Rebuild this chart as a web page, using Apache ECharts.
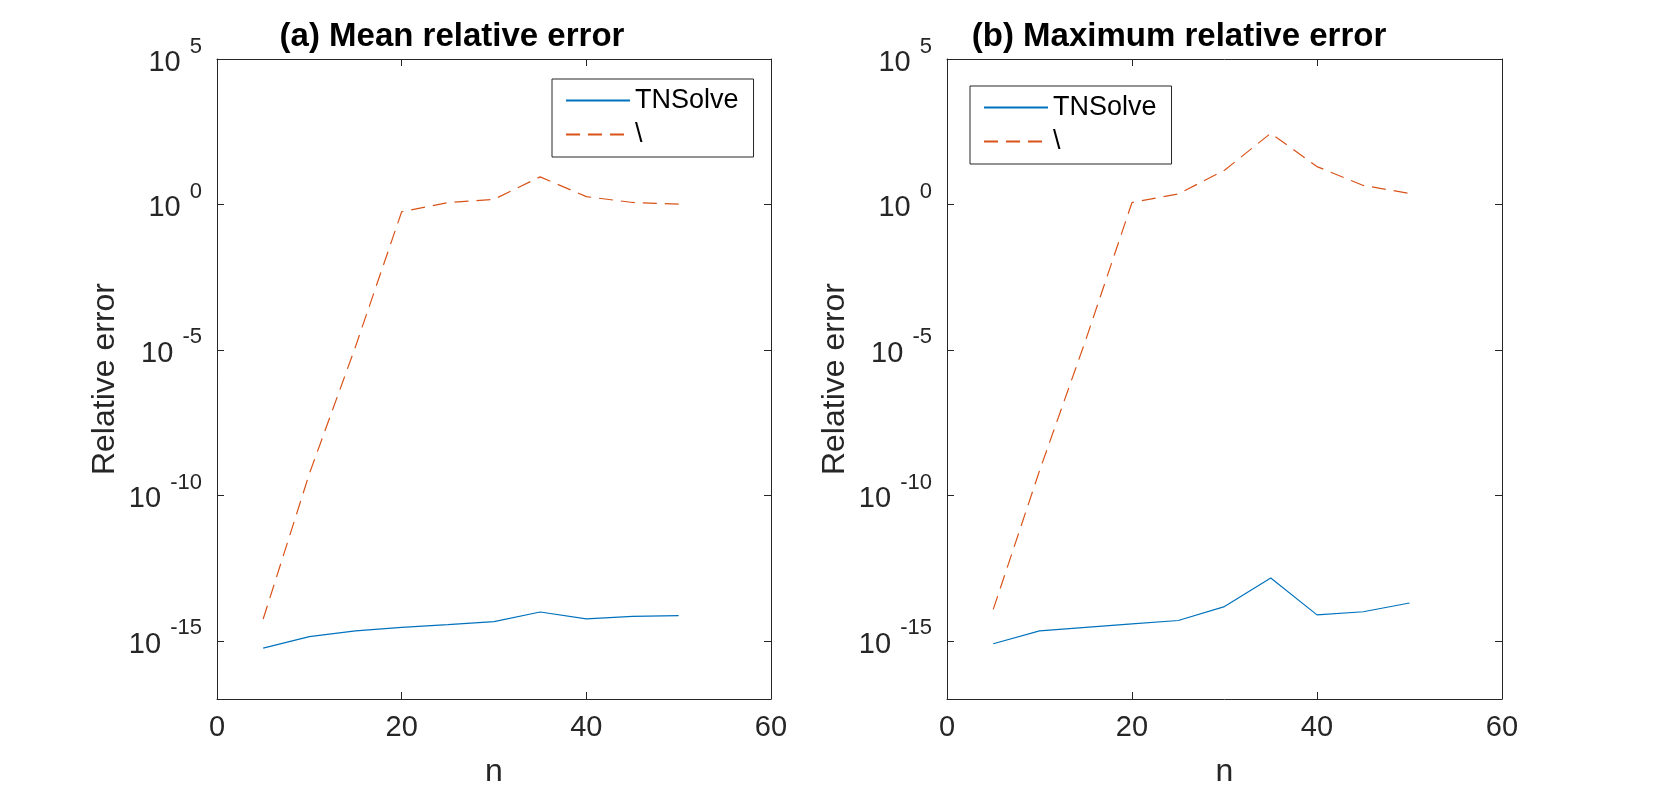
<!DOCTYPE html>
<html>
<head>
<meta charset="utf-8">
<script src="https://cdn.jsdelivr.net/npm/echarts@6/dist/echarts.min.js"></script>
<style>
html,body{margin:0;padding:0;background:#fff;}
#chart{width:1661px;height:788px;}
</style>
</head>
<body>
<div id="chart"></div>
<script>
// ---- data ----
const nValues = [5, 10, 15, 20, 25, 30, 35, 40, 45, 50];
const meanTNSolve = [5.6e-16, 1.4e-15, 2.2e-15, 2.9e-15, 3.6e-15, 4.6e-15, 9.8e-15, 5.7e-15, 6.9e-15, 7.4e-15];
const meanBackslash = [5.6e-15, 5.5e-10, 1.3e-5, 0.56, 1.15, 1.5, 8.9, 1.86, 1.17, 1.03];
const maxTNSolve = [7.9e-16, 2.2e-15, 2.9e-15, 3.8e-15, 5.0e-15, 1.5e-14, 1.45e-13, 7.8e-15, 1.0e-14, 2.0e-14];
const maxBackslash = [1.2e-14, 7.0e-10, 2.2e-5, 1.17, 2.3, 15, 280, 20, 4.5, 2.4];
const yTickValues = [1e-15, 1e-10, 1e-5, 1, 1e5];
const seriesNames = ['TNSolve', '\\'];
const titles = ['(a) Mean relative error', '(b) Maximum relative error'];

// ---- styling ----
const FONT = "'Liberation Sans', Arial, Helvetica, sans-serif";
const AX = '#262626';
const BLUE = '#0072BD';
const ORANGE = '#D95319';
const DASH = [14, 8];
const grids = [
  { left: 217, top: 59, width: 554, height: 640, containLabel: false, outerBoundsMode: 'none' },
  { left: 947, top: 59, width: 555, height: 640, containLabel: false, outerBoundsMode: 'none' }
];

function pairs(xs, ys) { return xs.map((x, i) => [x, ys[i]]); }

function yLabelFormatter(v) {
  const e = Math.round(Math.log10(v));
  return '{b|10}{s| ' + e + '}';
}

const yRich = {
  b: { fontSize: 29, fontFamily: FONT, color: AX, lineHeight: 47, verticalAlign: 'bottom', padding: [0, 0, 5, 0] },
  s: { fontSize: 22, fontFamily: FONT, color: AX, lineHeight: 22, verticalAlign: 'top', padding: [0, 0, 0, 3] }
};

const xAxes = [], yAxes = [];
grids.forEach((g, gi) => {
  xAxes.push({
    type: 'value', gridIndex: gi, min: 0, max: 60, interval: 20, position: 'bottom',
    name: 'n', nameLocation: 'middle', nameGap: 57,
    nameTextStyle: { fontSize: 32, fontFamily: FONT, color: AX },
    axisLine: { show: true, onZero: false, lineStyle: { color: AX, width: 1 } },
    axisTick: { show: true, inside: true, length: 7, lineStyle: { color: AX, width: 1 } },
    axisLabel: { show: true, fontSize: 29, fontFamily: FONT, color: AX, margin: 14 },
    splitLine: { show: false }
  });
  xAxes.push({
    type: 'value', gridIndex: gi, min: 0, max: 60, interval: 20, position: 'top',
    axisLine: { show: true, onZero: false, lineStyle: { color: AX, width: 1 } },
    axisTick: { show: true, inside: true, length: 7, lineStyle: { color: AX, width: 1 } },
    axisLabel: { show: false },
    splitLine: { show: false }
  });
  yAxes.push({
    type: 'log', logBase: 10, gridIndex: gi, min: 1e-17, max: 1e5, position: 'left',
    name: 'Relative error', nameLocation: 'middle', nameGap: 96,
    nameTextStyle: { fontSize: 32, fontFamily: FONT, color: AX },
    axisLine: { show: true, onZero: false, lineStyle: { color: AX, width: 1 } },
    axisTick: { show: true, inside: true, length: 7, customValues: yTickValues, lineStyle: { color: AX, width: 1 } },
    axisLabel: { show: true, margin: 15, customValues: yTickValues, formatter: yLabelFormatter, rich: yRich },
    splitLine: { show: false }, minorTick: { show: false }
  });
  yAxes.push({
    type: 'log', logBase: 10, gridIndex: gi, min: 1e-17, max: 1e5, position: 'right',
    axisLine: { show: true, onZero: false, lineStyle: { color: AX, width: 1 } },
    axisTick: { show: true, inside: true, length: 7, customValues: yTickValues, lineStyle: { color: AX, width: 1 } },
    axisLabel: { show: false },
    splitLine: { show: false }, minorTick: { show: false }
  });
});

function lineSeries(name, xi, yi, data, color, dashed) {
  return {
    type: 'line', name: name, xAxisIndex: xi, yAxisIndex: yi,
    data: data, symbol: 'none', showSymbol: false, animation: false,
    lineStyle: { color: color, width: 1.2, type: dashed ? DASH : 'solid' },
    itemStyle: { color: color },
    emphasis: { disabled: true }
  };
}

function makeLegend(left, top) {
  return {
    orient: 'vertical', left: left, top: top,
    padding: [8, 15, 9, 13], itemGap: 7, itemWidth: 64, itemHeight: 26,
    borderColor: AX, borderWidth: 1, backgroundColor: '#fff', borderRadius: 0,
    textStyle: { fontSize: 27, fontFamily: FONT, color: '#000' },
    itemStyle: { opacity: 0, borderWidth: 0 },
    data: [
      { name: seriesNames[0] },
      { name: seriesNames[1], lineStyle: { type: DASH.slice() } }
    ],
    selectedMode: false
  };
}

const option = {
  animation: false,
  backgroundColor: '#fff',
  title: [
    { text: titles[0], left: 452, top: 20, textAlign: 'center', padding: 0,
      textStyle: { fontSize: 33, fontWeight: 'bold', fontFamily: FONT, color: '#000' } },
    { text: titles[1], left: 1179, top: 20, textAlign: 'center', padding: 0,
      textStyle: { fontSize: 33, fontWeight: 'bold', fontFamily: FONT, color: '#000' } }
  ],
  legend: [makeLegend(552, 79), makeLegend(970, 86)],
  grid: grids,
  xAxis: xAxes,
  yAxis: yAxes,
  series: [
    lineSeries(seriesNames[0], 0, 0, pairs(nValues, meanTNSolve), BLUE, false),
    lineSeries(seriesNames[1], 0, 0, pairs(nValues, meanBackslash), ORANGE, true),
    lineSeries(seriesNames[0], 2, 2, pairs(nValues, maxTNSolve), BLUE, false),
    lineSeries(seriesNames[1], 2, 2, pairs(nValues, maxBackslash), ORANGE, true)
  ]
};

const chart = echarts.init(document.getElementById('chart'), null, { renderer: 'canvas' });
chart.setOption(option);
</script>
</body>
</html>
